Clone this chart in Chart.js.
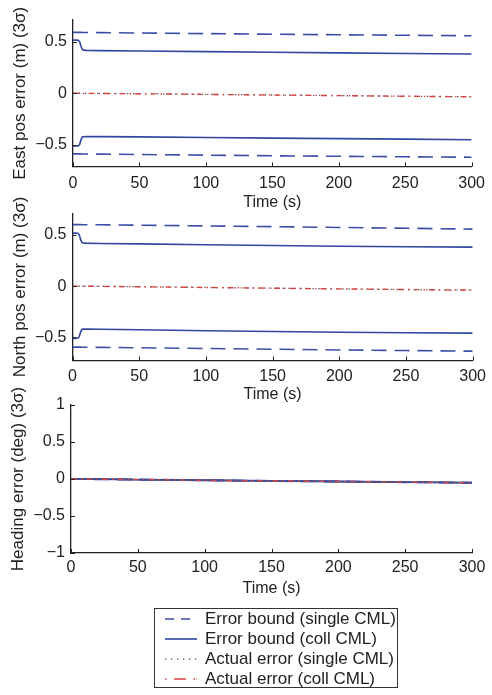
<!DOCTYPE html>
<html><head><meta charset="utf-8">
<script src="https://cdn.jsdelivr.net/npm/chart.js@4.4.1/dist/chart.umd.min.js"></script>
<style>
html,body{margin:0;padding:0;background:#fff;width:492px;height:695px;overflow:hidden;font-family:"Liberation Sans",Arial,sans-serif;}
.cw{position:absolute;left:0;width:492px;}
#legend{position:absolute;left:154px;top:608px;width:242px;height:78px;border:1px solid #333;background:#fff;}
.row{position:absolute;left:0;height:20px;width:100%;}
.row svg{position:absolute;left:9px;top:0;}
.row span{position:absolute;left:50px;top:0;line-height:20px;font-size:17px;color:#222;white-space:nowrap;}
</style></head><body>
<div class="cw" style="top:0;height:212px"><canvas id="c1"></canvas></div>
<div class="cw" style="top:190px;height:217px"><canvas id="c2"></canvas></div>
<div class="cw" style="top:375px;height:225px"><canvas id="c3"></canvas></div>
<div id="legend">
  <div class="row" style="top:0px"><svg width="34" height="20"><line x1="1" y1="10" x2="33" y2="10" stroke="#3a4ea6" stroke-width="1.5" stroke-dasharray="9,7"/></svg><span id="l1"></span></div>
  <div class="row" style="top:20px"><svg width="34" height="20"><line x1="1" y1="10" x2="33" y2="10" stroke="#32479e" stroke-width="1.6"/></svg><span id="l2"></span></div>
  <div class="row" style="top:40px"><svg width="34" height="20"><line x1="1" y1="10" x2="33" y2="10" stroke="#666" stroke-width="1.3" stroke-dasharray="1.3,4.7"/></svg><span id="l3"></span></div>
  <div class="row" style="top:60px"><svg width="34" height="20"><line x1="1" y1="10" x2="33" y2="10" stroke="#d64541" stroke-width="1.5" stroke-dasharray="1.5,7.5,12,7.5,1.5"/></svg><span id="l4"></span></div>
</div>
<script>
// ---- data ----
const time = [0, 2, 4, 5, 6, 7, 8, 10, 20, 50, 100, 150, 200, 250, 300];

const eastBoundSingleUp = [0.590,0.590,0.590,0.590,0.590,0.589,0.589,0.589,0.588,0.584,0.578,0.572,0.567,0.562,0.557];
const eastBoundSingleLo = [-0.588,-0.588,-0.588,-0.588,-0.588,-0.589,-0.589,-0.589,-0.590,-0.594,-0.600,-0.606,-0.611,-0.616,-0.620];
const eastBoundCollUp   = [0.515,0.515,0.513,0.500,0.455,0.425,0.418,0.416,0.413,0.409,0.403,0.397,0.391,0.386,0.381];
const eastBoundCollLo   = [-0.512,-0.512,-0.510,-0.497,-0.452,-0.424,-0.421,-0.420,-0.420,-0.423,-0.429,-0.435,-0.440,-0.445,-0.450];
const eastActualSingle  = [0.000,0.000,0.000,0.000,0.000,-0.001,-0.001,-0.001,-0.002,-0.005,-0.011,-0.017,-0.023,-0.029,-0.035];
const eastActualColl    = [0.000,0.000,0.000,0.000,0.000,0.000,-0.001,-0.001,-0.002,-0.005,-0.011,-0.017,-0.023,-0.029,-0.034];

const northBoundSingleUp = [0.600,0.600,0.600,0.600,0.600,0.599,0.599,0.599,0.598,0.594,0.587,0.580,0.572,0.564,0.556];
const northBoundSingleLo = [-0.595,-0.595,-0.595,-0.595,-0.595,-0.596,-0.596,-0.596,-0.597,-0.601,-0.608,-0.615,-0.622,-0.628,-0.634];
const northBoundCollUp   = [0.517,0.517,0.515,0.502,0.458,0.427,0.421,0.419,0.416,0.412,0.404,0.396,0.389,0.384,0.380];
const northBoundCollLo   = [-0.510,-0.510,-0.508,-0.495,-0.450,-0.423,-0.419,-0.419,-0.420,-0.425,-0.435,-0.443,-0.449,-0.454,-0.458];
const northActualSingle  = [0.000,0.000,0.000,0.000,0.000,-0.001,-0.001,-0.001,-0.002,-0.006,-0.013,-0.020,-0.027,-0.034,-0.040];
const northActualColl    = [0.000,0.000,0.000,0.000,0.000,0.000,-0.001,-0.001,-0.002,-0.006,-0.013,-0.020,-0.027,-0.033,-0.039];

const headBoundSingleUp = [0.003,0.003,0.003,0.003,0.003,0.003,0.003,0.003,0.001,-0.005,-0.014,-0.023,-0.031,-0.039,-0.047];
const headBoundSingleLo = [-0.003,-0.003,-0.003,-0.003,-0.003,-0.003,-0.003,-0.003,-0.005,-0.011,-0.020,-0.029,-0.037,-0.045,-0.053];
const headBoundCollUp   = [0.002,0.002,0.002,0.002,0.002,0.002,0.002,0.002,0.000,-0.006,-0.015,-0.024,-0.032,-0.040,-0.048];
const headBoundCollLo   = [-0.002,-0.002,-0.002,-0.002,-0.002,-0.002,-0.002,-0.002,-0.004,-0.010,-0.019,-0.028,-0.036,-0.044,-0.052];
const headActualSingle  = [0.000,0.000,0.000,0.000,0.000,0.000,0.000,0.000,-0.002,-0.008,-0.017,-0.026,-0.034,-0.042,-0.050];
const headActualColl    = [0.000,0.000,0.000,0.000,0.000,0.000,0.000,0.000,-0.002,-0.008,-0.017,-0.026,-0.034,-0.042,-0.050];

const xTicks = [0, 50, 100, 150, 200, 250, 300];
const yTicksPos = [-0.5, 0, 0.5];
const yTicksHead = [-1, -0.5, 0, 0.5, 1];

const legendLabels = ['Error bound (single CML)', 'Error bound (coll CML)', 'Actual error (single CML)', 'Actual error (coll CML)'];
const xTitle = 'Time (s)';
const yTitles = ['East pos error (m) (3\u03c3)', 'North pos error (m) (3\u03c3)', 'Heading error (deg) (3\u03c3)'];

legendLabels.forEach((t,i)=>{ document.getElementById('l'+(i+1)).textContent = t; });

// ---- styling ----
const BLUE_D = '#3a4ea6', BLUE_S = '#32479e', DOT = '#555', RED = '#d64541';
const FONT = "'Liberation Sans', Arial, sans-serif";
const TXT = '#222';

function pts(ys){ return time.map((t,i)=>({x:t, y:ys[i]})); }
function ds(ys, color, dash, width){
  return {data: pts(ys), borderColor: color, borderDash: dash, borderWidth: width,
          pointRadius: 0, tension: 0, fill: false};
}
function fmt(v){
  if (v === 0) return '0';
  const s = String(Math.abs(v));
  return v < 0 ? '\u2212' + s : s;
}

const inwardTicks = {
  id: 'inwardTicks',
  afterDatasetsDraw(chart){
    const {ctx, chartArea:a, scales:{x, y}} = chart;
    ctx.save();
    ctx.strokeStyle = TXT; ctx.lineWidth = 1;
    x.ticks.forEach(t=>{ const p = Math.round(x.getPixelForValue(t.value))+0.5;
      ctx.beginPath(); ctx.moveTo(p, a.bottom); ctx.lineTo(p, a.bottom-4); ctx.stroke(); });
    y.ticks.forEach(t=>{ const p = Math.round(y.getPixelForValue(t.value))+0.5;
      ctx.beginPath(); ctx.moveTo(a.left, p); ctx.lineTo(a.left+4, p); ctx.stroke(); });
    ctx.restore();
  }
};

function make(id, series, cfg){
  // first dataset in the array is drawn on top
  const datasets = [
    ds(series[5], RED, [6,4,1.5,4], 1.4),
    ds(series[4], DOT, [1.3,4.7], 1.3),
    ds(series[0], BLUE_D, [15,8], 1.6),
    ds(series[1], BLUE_D, [15,8], 1.6),
    ds(series[2], BLUE_S, [], 1.6),
    ds(series[3], BLUE_S, [], 1.6)
  ];
  return new Chart(document.getElementById(id), {
    type: 'line',
    data: {datasets},
    plugins: [inwardTicks],
    options: {
      responsive: true, maintainAspectRatio: false, animation: false,
      layout: {padding: {top: cfg.top, right: cfg.right, left: 0, bottom: 0}},
      plugins: {legend: {display: false}, tooltip: {enabled: false}},
      scales: {
        x: {type: 'linear', min: 0, max: 300,
            afterBuildTicks: s => { s.ticks = xTicks.map(v=>({value:v})); },
            afterFit: s => { s.height = cfg.xh; },
            grid: {display: false, drawTicks: false},
            border: {display: true, color: TXT, width: 1.3},
            ticks: {color: TXT, font: {family: FONT, size: 16}, padding: cfg.xpad, maxRotation: 0, autoSkip: false},
            title: {display: true, text: xTitle, color: TXT, font: {family: FONT, size: 16}, padding: {top: 0, bottom: cfg.tpad}}
        },
        y: {type: 'linear', min: cfg.ymin, max: cfg.ymax,
            afterBuildTicks: s => { s.ticks = cfg.yticks.map(v=>({value:v})); },
            afterFit: s => { s.width = cfg.yw; },
            grid: {display: false, drawTicks: false},
            border: {display: true, color: TXT, width: 1.3},
            ticks: {color: TXT, font: {family: FONT, size: 16}, padding: 6, callback: v => fmt(v), autoSkip: false},
            title: {display: true, text: cfg.ytitle, color: TXT, font: {family: FONT, size: 17}, padding: {top: cfg.ytpad, bottom: 0}}
        }
      }
    }
  });
}

make('c1', [eastBoundSingleUp, eastBoundSingleLo, eastBoundCollUp, eastBoundCollLo, eastActualSingle, eastActualColl],
  {top: 20, right: 17, xh: 45.5, yw: 73, xpad: 7, tpad: 0, ymin: -0.71, ymax: 0.71, yticks: yTicksPos, ytitle: yTitles[0], ytpad: 10});
make('c2', [northBoundSingleUp, northBoundSingleLo, northBoundCollUp, northBoundCollLo, northActualSingle, northActualColl],
  {top: 23.3, right: 18.5, xh: 46.5, yw: 72.5, xpad: 6, tpad: 3, ymin: -0.725, ymax: 0.71, yticks: yTicksPos, ytitle: yTitles[1], ytpad: 10});
make('c3', [headBoundSingleUp, headBoundSingleLo, headBoundCollUp, headBoundCollLo, headActualSingle, headActualColl],
  {top: 30, right: 20, xh: 47, yw: 71, xpad: 5, tpad: 2, ymin: -1, ymax: 1, yticks: yTicksHead, ytitle: yTitles[2], ytpad: 8});
</script>
</body></html>
